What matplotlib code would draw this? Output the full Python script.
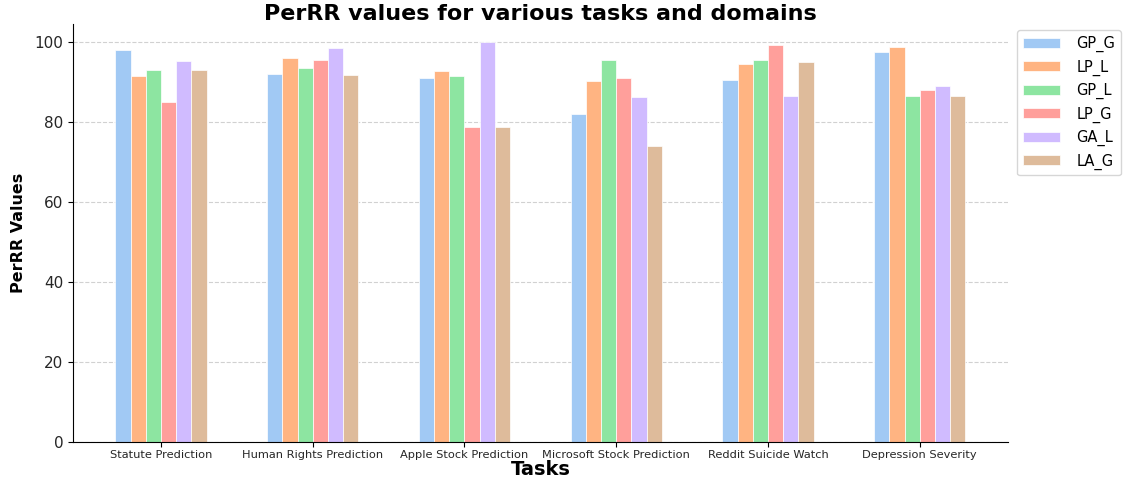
import matplotlib
matplotlib.use("Agg")
import matplotlib.pyplot as plt
import numpy as np

tasks = ["Statute Prediction", "Human Rights Prediction", "Apple Stock Prediction",
         "Microsoft Stock Prediction", "Reddit Suicide Watch", "Depression Severity"]
series_names = ["GP_G", "LP_L", "GP_L", "LP_G", "GA_L", "LA_G"]

gp_g = [98.2, 92.2, 91.2, 82.1, 90.7, 97.6]
lp_l = [91.6, 96.0, 92.8, 90.3, 94.5, 98.9]
gp_l = [93.2, 93.6, 91.7, 95.5, 95.5, 86.7]
lp_g = [85.1, 95.5, 78.9, 91.1, 99.3, 88.0]
ga_l = [95.4, 98.5, 100.0, 86.3, 86.6, 89.1]
la_g = [93.0, 91.8, 78.9, 74.1, 95.1, 86.7]

series = [gp_g, lp_l, gp_l, lp_g, ga_l, la_g]
colors = ['#a1c9f4', '#ffb482', '#8de5a1', '#ff9f9b', '#d0bbff', '#debb9b']

fig = plt.figure(figsize=(11.26, 4.82), dpi=100)
ax = fig.add_axes([0.0648, 0.083, 0.8302, 0.867])

x = np.arange(len(tasks))
w = 0.1
n = len(series)
for i, (name, vals) in enumerate(zip(series_names, series)):
    ax.bar(x + (i - (n - 1) / 2) * w, vals, width=w, color=colors[i], label=name,
           edgecolor='white', linewidth=0.5)

ax.set_xticks(x)
ax.set_xticklabels(tasks, fontsize=8.2, color='#262626')
ax.tick_params(axis='x', pad=2)
ax.tick_params(axis='y', labelsize=11, labelcolor='#262626')
ax.set_ylim(0, 104.6)
ax.yaxis.grid(True, linestyle='--', color='#cccccc', alpha=0.9)
ax.set_axisbelow(True)
for s in ['top', 'right']:
    ax.spines[s].set_visible(False)

ax.set_xlabel("Tasks", fontsize=14, fontweight='bold', labelpad=0)
ax.set_ylabel("PerRR Values", fontsize=11.5, fontweight='bold', labelpad=6)
ax.set_title("PerRR values for various tasks and domains", fontsize=16, fontweight='bold', pad=3)
ax.legend(loc='upper left', bbox_to_anchor=(1.0096, 0.9856), fontsize=10.5,
          handlelength=2.6, handletextpad=1.1, labelspacing=0.5, borderaxespad=0,
          fancybox=True)

fig.savefig("out.png", dpi=100)
